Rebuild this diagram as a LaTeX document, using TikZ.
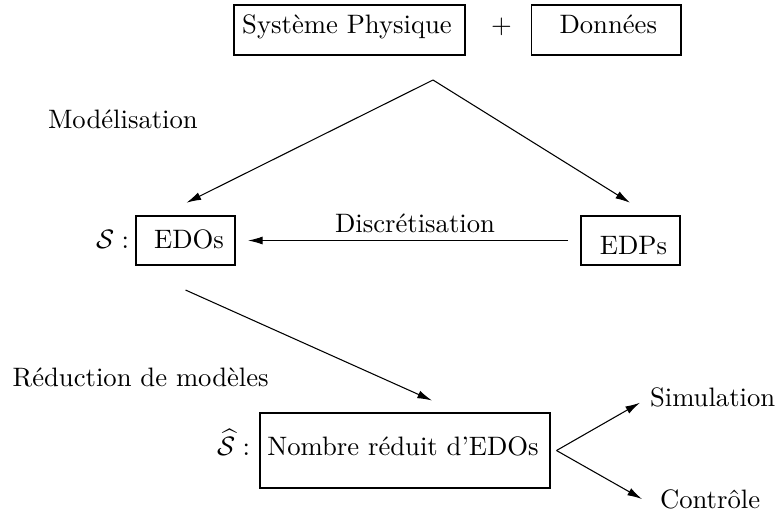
\documentclass[tikz,border=0pt]{standalone}
\usetikzlibrary{arrows.meta,calc}
\begin{document}
\begin{tikzpicture}[x=0.375pt,y=-0.375pt,
  boxnode/.style 2 args={draw,line width=0.45pt,inner sep=0pt,outer sep=0pt,
    minimum width=#1*0.375pt,minimum height=#2*0.375pt},
  lbl/.style={inner sep=0pt,outer sep=0pt,anchor=base},
  lblw/.style={inner sep=0pt,outer sep=0pt,anchor=base west},
  arr/.style={line width=0.4pt,-{Latex[length=5.5pt,width=3pt]}},
  ln/.style={line width=0.4pt}]
\useasboundingbox (0,0) rectangle (776,519);
% boxes
\node[boxnode={231}{50}] (sys) at (349.5,30) {};
\node[boxnode={149.3}{50}] (don) at (606.3,30) {};
\node[boxnode={99}{49}] (edos) at (185.5,240.5) {};
\node[boxnode={99}{49}] (edps) at (630.5,240.5) {};
\node[boxnode={290}{75}] (red) at (405,450.5) {};
% texts
\node[lbl] (tsys) at (347,33.3) {Système Physique};
\node[lbl] (plus) at (501.5,33.3) {$+$};
\node[lbl] (tdon) at (608.3,33.3) {Données};
\node[lblw] (modl) at (48,128) {Modélisation};
\node[lblw] (sname) at (96,248) {$\mathcal{S}:$};
\node[lbl] (tedos) at (189,248) {EDOs};
\node[lbl] (disc) at (415,232) {Discrétisation};
\node[lbl] (tedps) at (633.5,254) {EDPs};
\node[lblw] (redm) at (12.7,386.7) {Réduction de modèles};
\node[lblw] (shat) at (217,455) {$\widehat{\mathcal{S}}:$};
\node[lbl] (tred) at (403,455) {Nombre réduit d’EDOs};
\node[lblw] (sim) at (650,406.7) {Simulation};
\node[lblw] (ctl) at (660,508) {Contrôle};
% connectors
\coordinate (apex) at (433,80);
\draw[arr] (apex) -- ($(edos.north)+(1,-13.3)$);
\draw[arr] (apex) -- ($(edps.north)+(-0.5,-13.3)$);
\draw[arr] ($(edps.west)+(-13,0)$) -- ($(edos.east)+(13,0)$);
\draw[arr] ($(edos.south)+(0,25)$) -- ($(red.north)+(27,-12.5)$);
\coordinate (fork) at ($(red.east)+(6.5,0)$);
\draw[arr] (fork) -- ($(sim.base west)+(-10,-4)$);
\draw[arr] (fork) -- ($(ctl.base west)+(-18,-9)$);
\end{tikzpicture}
\end{document}
